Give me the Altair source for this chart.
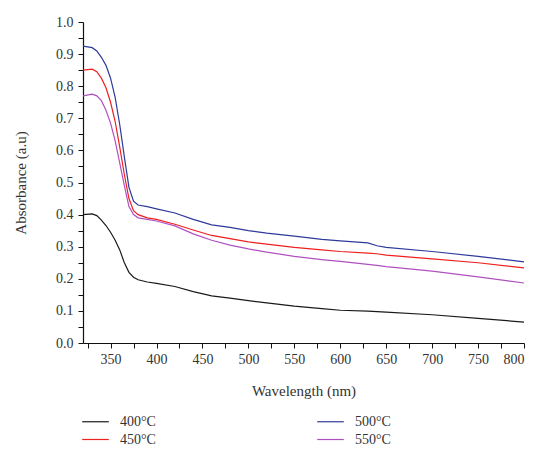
import altair as alt
import pandas as pd

wavelength = [320, 330, 335, 340, 345, 350, 355, 360, 365, 370, 375, 380, 390, 400,
              420, 440, 460, 480, 500, 520, 550, 580, 600, 630, 640, 650, 700, 750, 800]

abs_400 = [0.400, 0.402, 0.397, 0.383, 0.366, 0.345, 0.320, 0.290, 0.250, 0.220, 0.205, 0.197, 0.190, 0.186,
           0.176, 0.160, 0.147, 0.140, 0.132, 0.125, 0.115, 0.107, 0.102, 0.099, 0.098, 0.096, 0.088, 0.077, 0.065]
abs_450 = [0.850, 0.853, 0.845, 0.825, 0.795, 0.750, 0.690, 0.610, 0.525, 0.450, 0.412, 0.400, 0.390, 0.385,
           0.370, 0.352, 0.335, 0.325, 0.315, 0.308, 0.298, 0.290, 0.285, 0.280, 0.278, 0.274, 0.262, 0.250, 0.234]
abs_500 = [0.925, 0.920, 0.910, 0.890, 0.865, 0.825, 0.765, 0.680, 0.580, 0.485, 0.442, 0.430, 0.425, 0.418,
           0.405, 0.385, 0.368, 0.360, 0.350, 0.342, 0.333, 0.323, 0.318, 0.312, 0.303, 0.298, 0.285, 0.270, 0.253]
abs_550 = [0.770, 0.775, 0.770, 0.755, 0.725, 0.685, 0.630, 0.560, 0.490, 0.425, 0.400, 0.390, 0.385, 0.380,
           0.365, 0.340, 0.320, 0.305, 0.293, 0.283, 0.270, 0.260, 0.254, 0.245, 0.242, 0.238, 0.224, 0.206, 0.187]

series_names = ["400°C", "450°C", "500°C", "550°C"]
series_colors = ["#1a1a1a", "#ee2020", "#2e3a9a", "#b050c0"]
series_values = {"400°C": abs_400, "450°C": abs_450, "500°C": abs_500, "550°C": abs_550}

rows = []
for name, vals in series_values.items():
    for w, v in zip(wavelength, vals):
        rows.append({"Wavelength": w, "Absorbance": v, "Series": name})
df = pd.DataFrame(rows)

x_ticks = list(range(325, 801, 25))
y_ticks = [round(i * 0.05, 2) for i in range(0, 21)]

font = "Liberation Serif"

chart = alt.Chart(df).mark_line(strokeWidth=1.2).encode(
    x=alt.X("Wavelength:Q",
            scale=alt.Scale(domain=[320, 800], nice=False, zero=False),
            axis=alt.Axis(title="Wavelength (nm)", values=x_ticks,
                          labelExpr="datum.value % 50 == 0 ? datum.label : ''",
                          grid=False, tickSize=5, labelPadding=4, titlePadding=17)),
    y=alt.Y("Absorbance:Q",
            scale=alt.Scale(domain=[0, 1.0], nice=False),
            axis=alt.Axis(title="Absorbance (a.u)", values=y_ticks, format=".1f",
                          labelExpr="round(datum.value*100) % 10 == 0 ? datum.label : ''",
                          grid=False, tickSize=5, labelPadding=5, titlePadding=27)),
    color=alt.Color("Series:N",
                    scale=alt.Scale(domain=series_names, range=series_colors),
                    legend=alt.Legend(title=None, orient="none", legendX=2, legendY=389,
                                      columns=2, columnPadding=158, rowPadding=-5,
                                      symbolType="M-1.4,0L1.4,0", symbolSize=361,
                                      symbolStrokeWidth=1.2, symbolFillColor="transparent",
                                      labelFontSize=14, labelFont=font, labelColor="#333",
                                      labelOffset=14)),
    order=alt.Order("Wavelength:Q"),
    detail="Series:N",
).properties(
    width=441, height=321,
    autosize=alt.AutoSizeParams(type="none"),
    padding={"left": 75, "top": 14, "right": 6, "bottom": 106},
).configure_view(stroke=None).configure_axis(
    labelFont=font, titleFont=font, labelFontSize=14, titleFontSize=15,
    labelColor="#333", titleColor="#333", titleFontWeight="normal",
    domainColor="#111", tickColor="#111", domainWidth=1.2, tickWidth=1,
)

chart.save("out.html", embed_options={"renderer": "svg", "actions": False})
